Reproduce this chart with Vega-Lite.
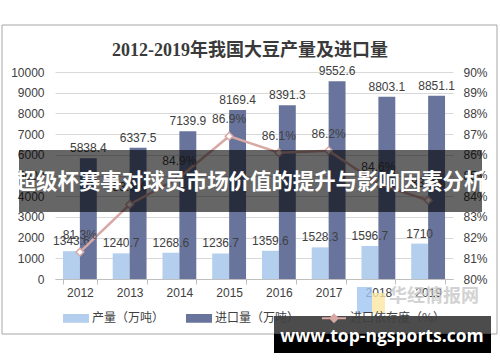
{
  "$schema": "https://vega.github.io/schema/vega-lite/v6.json",
  "width": 398,
  "height": 207,
  "autosize": {"type": "none"},
  "padding": {"left": 55, "top": 72, "right": 47, "bottom": 83},
  "background": "white",
  "title": {
    "text": "2012-2019年我国大豆产量及进口量",
    "font": "Liberation Serif, Noto Sans CJK SC",
    "fontSize": 18,
    "fontWeight": "bold",
    "color": "#3a3a3a",
    "anchor": "middle",
    "baseline": "bottom",
    "offset": -53,
    "dx": -4
  },
  "datasets": {
    "bars": [
      {"year": "2012", "series": "产量（万吨）", "value": 1343.6},
      {"year": "2013", "series": "产量（万吨）", "value": 1240.7},
      {"year": "2014", "series": "产量（万吨）", "value": 1268.6},
      {"year": "2015", "series": "产量（万吨）", "value": 1236.7},
      {"year": "2016", "series": "产量（万吨）", "value": 1359.6},
      {"year": "2017", "series": "产量（万吨）", "value": 1528.3},
      {"year": "2018", "series": "产量（万吨）", "value": 1596.7},
      {"year": "2019", "series": "产量（万吨）", "value": 1710},
      {"year": "2012", "series": "进口量（万吨）", "value": 5838.4},
      {"year": "2013", "series": "进口量（万吨）", "value": 6337.5},
      {"year": "2014", "series": "进口量（万吨）", "value": 7139.9},
      {"year": "2015", "series": "进口量（万吨）", "value": 8169.4},
      {"year": "2016", "series": "进口量（万吨）", "value": 8391.3},
      {"year": "2017", "series": "进口量（万吨）", "value": 9552.6},
      {"year": "2018", "series": "进口量（万吨）", "value": 8803.1},
      {"year": "2019", "series": "进口量（万吨）", "value": 8851.1}
    ],
    "dep": [
      {"year": "2012", "pct": 0.813},
      {"year": "2013", "pct": 0.836},
      {"year": "2014", "pct": 0.849},
      {"year": "2015", "pct": 0.869},
      {"year": "2016", "pct": 0.861},
      {"year": "2017", "pct": 0.862},
      {"year": "2018", "pct": 0.846},
      {"year": "2019", "pct": 0.838}
    ],
    "deco": [{"banner": "超级杯赛事对球员市场价值的提升与影响因素分析", "site": "www.top-ngsports.com", "mark": "华经情报网"}]
  },
  "config": {
    "view": {"stroke": null},
    "font": "Liberation Sans",
    "axis": {"labelFont": "Liberation Sans", "labelFontSize": 12, "labelColor": "#404040", "title": null}
  },
  "layer": [
    {
      "data": {"name": "bars"},
      "layer": [
        {
          "mark": {"type": "bar"},
          "encoding": {
            "x": {
              "field": "year", "type": "nominal",
              "scale": {"paddingInner": 0.32, "paddingOuter": 0.16},
              "axis": {"labelAngle": 0, "domainColor": "#bfbfbf", "tickColor": "#bfbfbf", "tickSize": 5, "tickBand": "extent", "labelPadding": 3}
            },
            "xOffset": {"field": "series", "type": "nominal", "sort": ["产量（万吨）", "进口量（万吨）"], "scale": {"paddingInner": 0, "paddingOuter": 0}},
            "y": {
              "field": "value", "type": "quantitative",
              "scale": {"domain": [0, 10000], "nice": false},
              "axis": {"tickCount": 10, "format": "d", "grid": true, "gridColor": "#d9d9d9", "domain": false, "ticks": false, "labelPadding": 11}
            },
            "color": {
              "field": "series", "type": "nominal",
              "scale": {"domain": ["产量（万吨）", "进口量（万吨）", "进口依存度（%）"], "range": ["#b4cfee", "#68749c", "#d8a8a5"]},
              "legend": {
                "orient": "none",
                "legendX": 8,
                "legendY": 233,
                "direction": "horizontal",
                "title": null,
                "labelFont": "Noto Sans CJK SC",
                "labelFontSize": 12,
                "labelColor": "#404040",
                "symbolSize": 576,
                "labelOffset": 3,
                "columnPadding": 18,
                "symbolStrokeWidth": 2,
                "encode": {
                  "symbols": {
                    "update": {
                      "shape": {"signal": "datum.value === '进口依存度（%）' ? 'M-1,0H-0.3M0.3,0H1M0,-0.3L0.3,0L0,0.3L-0.3,0Z' : 'M-1,-0.28H1V0.28H-1Z'"},
                      "fill": {"signal": "datum.value === '进口依存度（%）' ? 'white' : (datum.value === '产量（万吨）' ? '#b4cfee' : '#68749c')"},
                      "stroke": {"signal": "datum.value === '进口依存度（%）' ? '#d8a8a5' : 'transparent'"},
                      "opacity": {"value": 1}
                    }
                  }
                }
              }
            }
          }
        },
        {
          "mark": {"type": "text", "baseline": "bottom", "dy": -3, "fontSize": 12, "color": "#404040", "font": "Liberation Sans"},
          "encoding": {
            "x": {"field": "year", "type": "nominal"},
            "xOffset": {"field": "series", "type": "nominal", "sort": ["产量（万吨）", "进口量（万吨）"]},
            "y": {"field": "value", "type": "quantitative"},
            "text": {"field": "value", "type": "quantitative"}
          }
        }
      ]
    },
    {
      "data": {"name": "dep"},
      "layer": [
        {
          "mark": {"type": "line", "strokeWidth": 2.5},
          "encoding": {
            "x": {"field": "year", "type": "nominal"},
            "y": {
              "field": "pct", "type": "quantitative",
              "scale": {"domain": [0.8, 0.9], "nice": false, "zero": false},
              "axis": {"orient": "right", "tickCount": 10, "format": ".0%", "grid": false, "domain": false, "ticks": false, "labelPadding": 10}
            },
            "color": {"datum": "进口依存度（%）"}
          }
        },
        {
          "mark": {"type": "point", "shape": "diamond", "size": 60, "filled": true, "fill": "white", "stroke": "#d8a8a5", "strokeWidth": 1.5, "opacity": 1},
          "encoding": {
            "x": {"field": "year", "type": "nominal"},
            "y": {"field": "pct", "type": "quantitative"}
          }
        },
        {
          "mark": {"type": "text", "baseline": "middle", "dy": -17, "fontSize": 12, "color": "#404040", "font": "Liberation Sans"},
          "encoding": {
            "x": {"field": "year", "type": "nominal"},
            "y": {"field": "pct", "type": "quantitative"},
            "text": {"field": "pct", "type": "quantitative", "format": ".1%"}
          }
        }
      ]
    },
    {
      "data": {"name": "deco"},
      "layer": [
        {
          "mark": {"type": "rect", "fill": null, "stroke": "#a6a6a6", "strokeWidth": 1},
          "encoding": {"x": {"value": -53}, "x2": {"value": 442}, "y": {"value": -47}, "y2": {"value": 262}}
        },
        {
          "mark": {"type": "rect", "fill": "#9fc6f2", "opacity": 0.8},
          "encoding": {"x": {"value": 302}, "x2": {"value": 317}, "y": {"value": 215}, "y2": {"value": 241}}
        },
        {
          "mark": {"type": "rect", "fill": "#fbe6a2", "opacity": 0.8},
          "encoding": {"x": {"value": 317}, "x2": {"value": 330}, "y": {"value": 221}, "y2": {"value": 241}}
        },
        {
          "mark": {"type": "text", "font": "Noto Sans CJK SC", "fontSize": 18, "fontWeight": "bold", "color": "#c8c8c8", "opacity": 0.8, "align": "center", "baseline": "middle"},
          "encoding": {"x": {"value": 379}, "y": {"value": 225}, "text": {"field": "mark"}}
        },
        {
          "mark": {"type": "rect", "fill": "black", "opacity": 0.6},
          "encoding": {"x": {"value": -36}, "x2": {"value": 427}, "y": {"value": 78}, "y2": {"value": 140}}
        },
        {
          "mark": {"type": "text", "font": "Noto Sans CJK SC", "fontSize": 21.4, "fontWeight": "bold", "color": "white", "align": "center", "baseline": "middle"},
          "encoding": {"x": {"value": 195}, "y": {"value": 111}, "text": {"field": "banner"}}
        },
        {
          "mark": {"type": "rect", "fill": "black", "opacity": 0.7},
          "encoding": {"x": {"value": 219}, "x2": {"value": 436}, "y": {"value": 244}, "y2": {"value": 262}}
        },
        {
          "mark": {"type": "rect", "fill": "black", "opacity": 1},
          "encoding": {"x": {"value": 219}, "x2": {"value": 436}, "y": {"value": 262}, "y2": {"value": 281}}
        },
        {
          "mark": {"type": "text", "font": "Open Sans", "fontSize": 17.5, "fontWeight": "bold", "color": "white", "align": "center", "baseline": "middle"},
          "encoding": {"x": {"value": 327}, "y": {"value": 265}, "text": {"field": "site"}}
        }
      ]
    }
  ],
  "resolve": {"scale": {"y": "independent"}}
}
